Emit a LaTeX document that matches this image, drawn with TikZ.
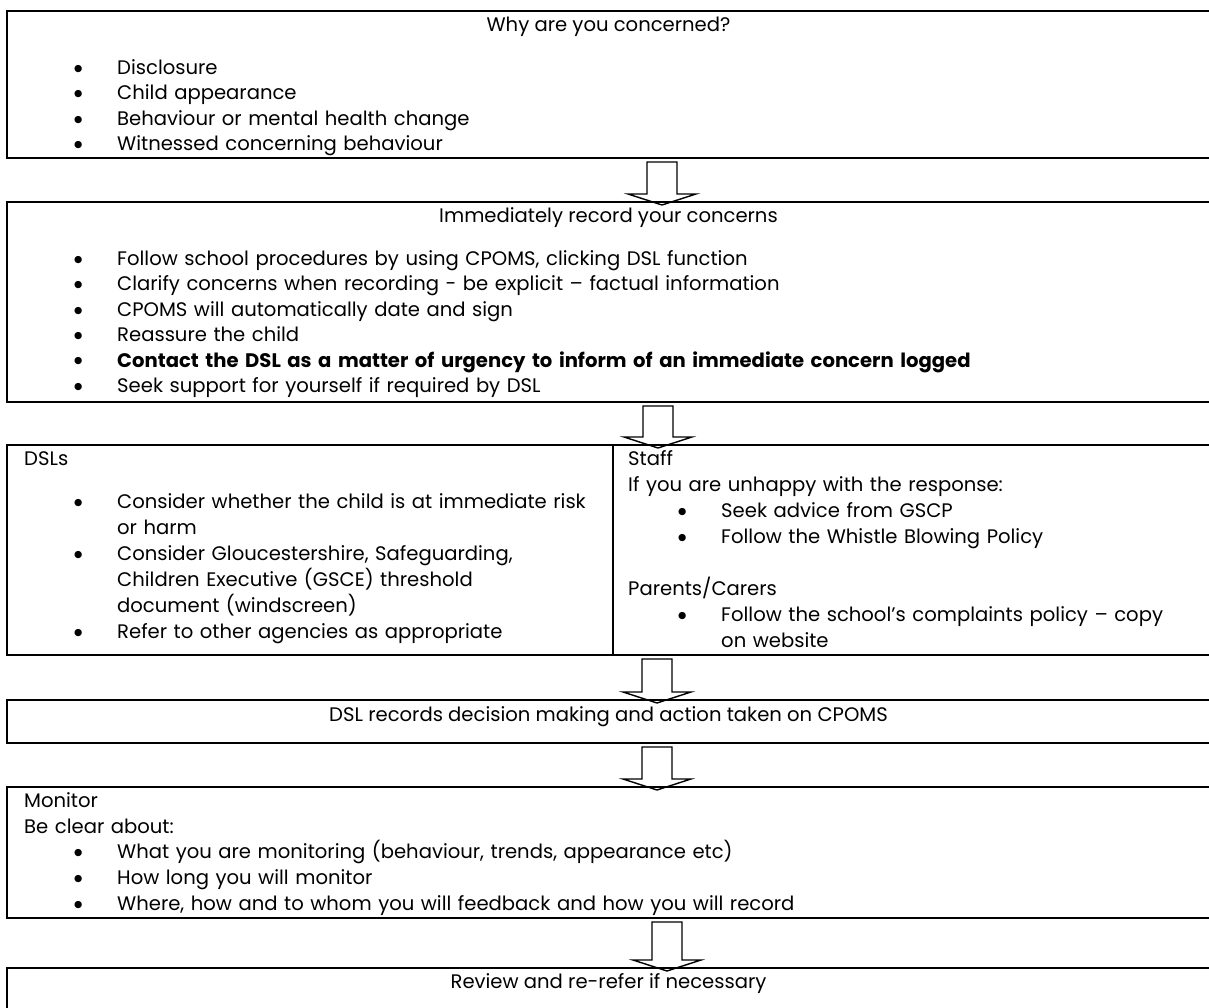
\documentclass[tikz,border=0pt]{standalone}
\usepackage{fontspec}
\setmainfont{Poppins}
\newfontfamily\dotfont{DejaVu Sans}
\usetikzlibrary{calc}

\newcommand{\bul}{\makebox[43pt][l]{\raisebox{3.2pt}{\dotfont\fontsize{9.5}{10}\selectfont ●}}}
\newcommand{\ind}[1]{\hspace*{#1pt}}
% block arrow between two panels: from, to, x offset
\newcommand{\flowarrow}[3]{%
  \draw[flow] ($(#1.south west)+(#3-15,4)$) -- ($(#2.north west)+(#3-15,-8)$) -- ++(-19,0)
    -- ($(#2.north west)+(#3,3)$) -- ($(#2.north west)+(#3+34,-8)$) -- ++(-19,0)
    -- ($(#1.south west)+(#3+15,4)$) -- cycle;}

\begin{document}
\begin{tikzpicture}[
        x=1pt, y=-1pt,
        panel/.style={rectangle, draw, line width=1.8pt, inner sep=0pt, outer sep=0pt,
                      anchor=north west, minimum width=1203pt},
        txt/.style={inner sep=0pt, anchor=base west, text width=1100pt, align=left,
                    font=\fontsize{19.6}{25.4}\selectfont},
        title/.style={inner sep=0pt, anchor=base, font=\fontsize{19.6}{25.4}\selectfont},
        flow/.style={line width=1.4pt, line join=miter},
    ]
    \useasboundingbox (0,0) rectangle (1209,1008);
    \clip (0,0) rectangle (1209,1008);

    % panels
    \node[panel, minimum height=147.3pt] (why) at (7,10.7) {};
    \node[panel, minimum height=200pt] (record) at (7,202) {};
    \node[panel, minimum height=210pt] (dsls) at (7,445) {};
    \node[panel, minimum height=43pt] (decide) at (7,700) {};
    \node[panel, minimum height=131pt] (monitor) at (7,787) {};
    \node[panel, minimum height=47pt] (review) at (7,968) {};
    \draw[line width=1.8pt] ($(dsls.north west)+(606,0)$) -- ($(dsls.south west)+(606,0)$);

    % texts
    \node[title] (whyhead) at ($(why.north)+(0,20.8)$) {Why are you concerned?};
    \node[txt] (whylist) at ($(why.north west)+(67,63.8)$) {%
      \bul Disclosure\\
      \bul Child appearance\\
      \bul Behaviour or mental health change\\
      \bul Witnessed concerning behaviour};

    \node[title] (recordhead) at ($(record.north)+(0,20.5)$) {Immediately record your concerns};
    \node[txt] (recordlist) at ($(record.north west)+(67,63.5)$) {%
      \bul Follow school procedures by using CPOMS, clicking DSL function\\
      \bul Clarify concerns when recording - be explicit – factual information\\
      \bul CPOMS will automatically date and sign\\
      \bul Reassure the child\\
      \bul \textbf{Contact the DSL as a matter of urgency to inform of an immediate concern logged}\\
      \bul Seek support for yourself if required by DSL};

    \node[txt, font=\fontsize{19.6}{26}\selectfont] (dsltext) at ($(dsls.north west)+(17,20.5)$) {%
      DSLs\\[17pt]
      \ind{50}\bul Consider whether the child is at immediate risk\\
      \ind{93}or harm\\
      \ind{50}\bul Consider Gloucestershire, Safeguarding,\\
      \ind{93}Children Executive (GSCE) threshold\\
      \ind{93}document (windscreen)\\
      \ind{50}\bul Refer to other agencies as appropriate};
    \node[txt, font=\fontsize{19.6}{26}\selectfont] (stafftext) at ($(dsls.north west)+(621,20.5)$) {%
      Staff\\
      If you are unhappy with the response:\\
      \ind{50}\bul Seek advice from GSCP\\
      \ind{50}\bul Follow the Whistle Blowing Policy\\[26pt]
      Parents/Carers\\
      \ind{50}\bul Follow the school's complaints policy – copy\\
      \ind{93}on website};

    \node[title] (decidehead) at ($(decide.north)+(0,21.5)$) {DSL records decision making and action taken on CPOMS};

    \node[txt, font=\fontsize{19.6}{25.7}\selectfont] (monitortext) at ($(monitor.north west)+(17,20.5)$) {%
      Monitor\\
      Be clear about:\\
      \ind{50}\bul What you are monitoring (behaviour, trends, appearance etc)\\
      \ind{50}\bul How long you will monitor\\
      \ind{50}\bul Where, how and to whom you will feedback and how you will record};

    \node[title] (reviewhead) at ($(review.north)+(0,20.5)$) {Review and re-refer if necessary};

    % arrows
    \flowarrow{why}{record}{655}
    \flowarrow{record}{dsls}{651}
    \flowarrow{dsls}{decide}{650}
    \flowarrow{decide}{monitor}{650}
    \flowarrow{monitor}{review}{660}
\end{tikzpicture}
\end{document}
